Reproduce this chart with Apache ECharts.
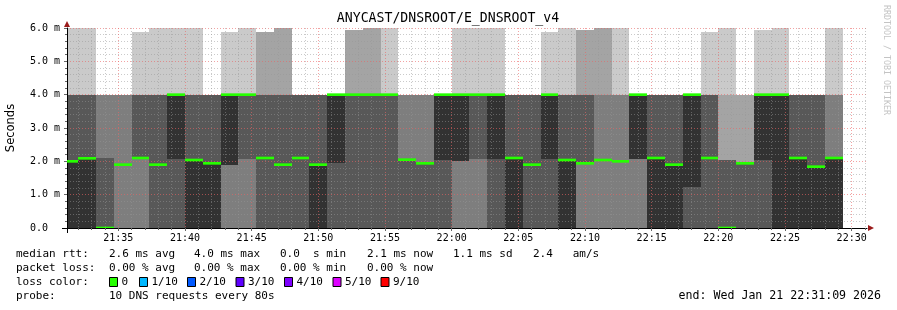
<!DOCTYPE html>
<html><head><meta charset="utf-8">
<script src="https://cdn.jsdelivr.net/npm/echarts@6/dist/echarts.min.js"></script>
<style>html,body{margin:0;padding:0;background:#fff}#c{width:897px;height:310px}</style>
</head><body><div id="c"></div>
<script>
// ---------------- data ----------------
const chartTitle = 'ANYCAST/DNSROOT/E_DNSROOT_v4';
const yAxisName = 'Seconds';
const graphStart = '21:31:09';
const graphEnd = '22:31:09';
const firstStepStart = '21:30:40';
const stepSeconds = 80;
// 10 sorted DNS round-trip times (ms) for every 80 s step
const pings = [
  [0,0,0,0,0,2.0,4,4,4,6],
  [0,0,0,0,0,2.09,4,4,4,6],
  [0,0,0,0,0,0,2.1,4,4,4],
  [0,0,0,1.9,1.9,1.9,1.9,4,4,4],
  [0,0,0,2.1,2.1,2.1,4,4,4,5.88],
  [0,0,0,0,1.9,1.9,4,4,4,6],
  [0,0,0,0,2.07,4,4,4,4,6],
  [0,0,0,0,0,2.04,4,4,4,6],
  [0,0,0,0,0,1.94,4,4,4,4],
  [0,0,0,1.9,1.9,4,4,4,4,5.88],
  [0,0,0,2.07,4,4,4,4,4,6],
  [0,0,0,0,2.1,2.1,4,4,5.88,5.88],
  [0,0,0,0,1.9,1.9,4,4,6,6],
  [0,0,0,0,2.1,2.1,4,4,4,4],
  [0,0,0,0,0,1.9,4,4,4,4],
  [0,0,0,0,1.94,4,4,4,4,4],
  [0,0,0,0,4,4,4,4,5.94,5.94],
  [0,0,0,0,4,4,4,4,6,6],
  [0,0,0,0,4,4,4,4,4,6],
  [0,0,0,0,2.05,2.05,2.05,4,4,4],
  [0,0,0,0,1.94,1.94,1.94,4,4,4],
  [0,0,0,0,2.04,4,4,4,4,4],
  [0,0,0,2.0,2.0,4,4,4,4,6],
  [0,0,0,2.07,4,4,4,4,4,6],
  [0,0,0,0,2.07,4,4,4,4,6],
  [0,0,0,0,0,2.1,4,4,4,4],
  [0,0,0,0,1.9,1.9,4,4,4,4],
  [0,0,0,0,2.07,4,4,4,4,5.88],
  [0,0,0,0,0,2.04,4,4,4,6],
  [0,0,0,1.94,1.94,1.94,4,4,5.94,5.94],
  [0,0,0,2.04,2.04,2.04,2.04,4,6,6],
  [0,0,0,2.0,2.0,2.0,2.0,4,4,6],
  [0,0,0,2.07,2.07,4,4,4,4,4],
  [0,0,0,0,0,2.1,4,4,4,4],
  [0,0,0,0,0,1.9,4,4,4,4],
  [0,0,0,0,1.24,4,4,4,4,4],
  [0,0,0,0,2.1,2.1,4,4,4,5.88],
  [0,0,0,0,0,0,2.04,2.04,4,6],
  [0,0,0,0,1.94,1.94,1.94,1.94,4,4],
  [0,0,0,0,2.04,4,4,4,4,5.94],
  [0,0,0,0,0,4,4,4,4,6],
  [0,0,0,0,0,2.1,4,4,4,4],
  [0,0,0,0,0,1.84,4,4,4,4],
  [0,0,0,0,0,2.1,2.1,4,4,6]
];
// median rtt (ms) per step (green line)
const median = [2.0,2.09,0,1.9,2.1,1.9,4,2.04,1.94,4,4,2.1,1.9,2.1,1.9,4,4,4,4,2.05,
  1.94,4,4,4,4,2.1,1.9,4,2.04,1.94,2.04,2.0,4,2.1,1.9,4,2.1,0,1.94,4,4,2.1,1.84,2.1];
const xTickLabels = ['21:35','21:40','21:45','21:50','21:55','22:00','22:05','22:10','22:15','22:20','22:25','22:30'];
const yTickValues = [0,1,2,3,4,5,6];
const legendRow1 = [['median rtt:',16],['2.6 ms avg',109],['4.0 ms max',194],['0.0  s min',280],['2.1 ms now',367],['1.1 ms sd',453],['2.4   am/s',533]];
const legendRow2 = [['packet loss:',16],['0.00 % avg',109],['0.00 % max',194],['0.00 % min',280],['0.00 % now',367]];
const lossLabels = ['0','1/10','2/10','3/10','4/10','5/10','9/10'];
const lossColors = ['#26ff00','#00b8ff','#0059ff','#5e00ff','#7e00ff','#dd00ff','#ff0000'];
const lossBoxX = [109,139,187,235.5,284,332.5,380.5];
const probeText = '10 DNS requests every 80s';
const endText = 'end: Wed Jan 21 22:31:09 2026';
const watermark = 'RRDTOOL / TOBI OETIKER';

// ---------------- helpers ----------------
const smokeColors = ['#cacaca','#a4a4a4','#7e7e7e','#585858','#323232'];
const medianHalf = 0.04; // ms, half thickness of the median band
const toSec = s => { const p = s.split(':').map(Number); return p[0]*3600 + p[1]*60 + (p[2]||0); };
const fmt = v => { const h = Math.floor(v/3600), m = Math.floor((v%3600)/60); return String(h).padStart(2,'0')+':'+String(m).padStart(2,'0'); };
const tMin = toSec(graphStart), tMax = toSec(graphEnd);
const s0 = toSec(firstStepStart);
const smokeData = pings.map((p,i) => [s0 + i*stepSeconds, s0 + (i+1)*stepSeconds].concat(p));
const medianData = median.map((m,i) => [s0 + i*stepSeconds, s0 + (i+1)*stepSeconds, m]);
const majorTicks = xTickLabels.map(toSec);
const minorTicks = [];
for (let t = Math.ceil(tMin/60)*60; t <= tMax; t += 60) if (majorTicks.indexOf(t) < 0) minorTicks.push(t);

const MONO = '"DejaVu Sans Mono", monospace';
const gridMinor = {color:'rgba(150,150,150,0.5)', width:1, type:[1,2]};
const gridMajor = {color:'rgba(235,100,100,0.6)', width:1, type:[1,2]};

const chart = echarts.init(document.getElementById('c'), null, {renderer:'canvas'});
const L = 67, T = 28, R = 867, B = 228;

const graphics = [];
const addText = (txt, x, y, extra) => graphics.push({type:'text', x:x, y:y, z:100,
  style:Object.assign({text:txt, fontFamily:MONO, fontSize:11, fill:'#000', verticalAlign:'middle'}, extra||{})});
legendRow1.forEach(([t,x]) => addText(t, x, 254));
legendRow2.forEach(([t,x]) => addText(t, x, 268));
addText('loss color:', 16, 282);
lossLabels.forEach((t,i) => {
  graphics.push({type:'rect', z:100, shape:{x:lossBoxX[i]+0.5, y:277.5, width:8, height:9},
    style:{fill:lossColors[i], stroke:'#000', lineWidth:1}});
  addText(t, lossBoxX[i]+12.5, 282);
});
addText('probe:', 16, 296);
addText(probeText, 109, 296);
addText(endText, 881, 296, {align:'right', fontSize:11.6});
addText(chartTitle, 448, 19, {align:'center', fontSize:13.2});
graphics.push({type:'text', x:886, y:5, z:100, rotation:-Math.PI/2,
  style:{text:watermark, fontFamily:MONO, fontSize:8.3, fill:'#c4c4c4', verticalAlign:'middle', align:'left'}});
// axis arrows
graphics.push({type:'polygon', z:100, shape:{points:[[R+1,B-3],[R+1,B+3],[R+7,B]]}, style:{fill:'#9b1b1b'}});
graphics.push({type:'polygon', z:100, shape:{points:[[L-3,T-1],[L+3,T-1],[L,T-7]]}, style:{fill:'#9b1b1b'}});
// axis line extensions (rrdtool style)
graphics.push({type:'line', z:100, shape:{x1:L-5, y1:B+0.5, x2:L, y2:B+0.5}, style:{stroke:'#000', lineWidth:1}});
graphics.push({type:'line', z:100, shape:{x1:L+0.5, y1:B, x2:L+0.5, y2:B+5}, style:{stroke:'#000', lineWidth:1}});

const option = {
  backgroundColor:'#ffffff',
  animation:false,
  grid:{left:L, top:T, right:897-R, bottom:310-B, containLabel:false, outerBoundsMode:'none'},
  xAxis:[{
    type:'value', min:tMin, max:tMax, z:5,
    axisLine:{show:true, lineStyle:{color:'#000', width:1}},
    axisTick:{show:true, customValues:minorTicks, length:2, lineStyle:{color:'#666'}},
    axisLabel:{show:false},
    splitLine:{show:true, lineStyle:gridMinor}
  },{
    type:'value', min:tMin, max:tMax, z:6, position:'bottom',
    axisLine:{show:false},
    axisTick:{show:true, customValues:majorTicks, length:3, lineStyle:{color:'#666'}},
    axisLabel:{show:true, customValues:majorTicks, formatter:fmt, fontFamily:MONO, fontSize:10, color:'#000', margin:5},
    splitLine:{show:true, lineStyle:gridMajor}
  }],
  yAxis:{
    type:'value', min:0, max:6, interval:1, z:5,
    name:yAxisName, nameLocation:'middle', nameRotate:90, nameGap:50,
    nameTextStyle:{fontFamily:'"DejaVu Sans", sans-serif', fontSize:11.5, color:'#000'},
    axisLine:{show:true, lineStyle:{color:'#000', width:1}},
    axisTick:{show:true, length:3, lineStyle:{color:'#666'}},
    minorTick:{show:true, splitNumber:5, length:2, lineStyle:{color:'#666'}},
    axisLabel:{fontFamily:MONO, fontSize:10, color:'#000', margin:7,
      formatter: v => v === 0 ? '0.0  ' : v.toFixed(1) + ' m'},
    splitLine:{show:true, lineStyle:gridMajor},
    minorSplitLine:{show:true, lineStyle:gridMinor}
  },
  series:[{
    type:'custom', name:'smoke', z:1, clip:true, silent:true,
    data:smokeData,
    encode:{x:[0,1], y:[2,11]},
    renderItem:(params, api) => {
      const t0 = api.value(0), t1 = api.value(1);
      const v = []; for (let k = 0; k < 10; k++) v.push(api.value(2+k));
      const children = [];
      for (let b = 0; b < 5; b++) {
        const lo = v[b], hi = v[9-b];
        if (hi <= lo) continue;
        const a = api.coord([t0, hi]), c = api.coord([t1, lo]);
        const x0 = Math.round(a[0]), x1 = Math.round(c[0]);
        const y0 = Math.round(a[1]), y1 = Math.round(c[1]);
        children.push({type:'rect', shape:{x:x0, y:y0, width:x1-x0, height:y1-y0}, style:{fill:smokeColors[b]}});
      }
      return {type:'group', children};
    }
  },{
    type:'custom', name:'median', z:8, clip:true, silent:true,
    data:medianData,
    encode:{x:[0,1], y:2},
    renderItem:(params, api) => {
      const t0 = api.value(0), t1 = api.value(1), m = api.value(2);
      const a = api.coord([t0, m + medianHalf]), c = api.coord([t1, m - medianHalf]);
      const x0 = Math.round(a[0]), x1 = Math.round(c[0]);
      return {type:'rect', shape:{x:x0, y:a[1], width:x1-x0, height:c[1]-a[1]}, style:{fill:lossColors[0]}};
    }
  }],
  graphic:graphics
};
chart.setOption(option);
</script></body></html>
